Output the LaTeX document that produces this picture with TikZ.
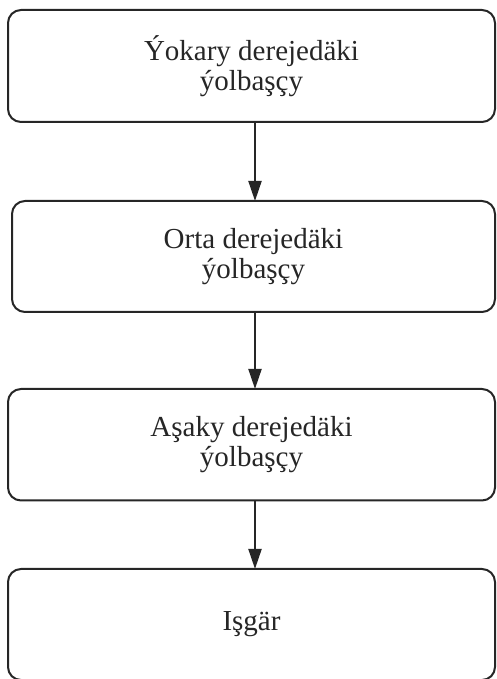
\documentclass[tikz,border=0pt]{standalone}
\usepackage{fontspec}
\setmainfont{Liberation Serif}
\usetikzlibrary{arrows.meta}
\begin{document}
\begin{tikzpicture}[x=1pt,y=1pt,
  box/.style={draw=black!85, line width=2pt, rounded corners=13pt, align=center,
    font=\fontsize{29}{30.5}\selectfont, text=black!85, inner sep=0pt},
  arr/.style={draw=black!85, line width=2pt, -{Triangle[length=20pt,width=13pt]}, shorten >=-1pt}]
\useasboundingbox (0,0) rectangle (496,679);
\node[box, minimum width=487pt, minimum height=112pt] (b1) at (251.5,613) {Ýokary derejedäki\\ýolbaşçy};
\node[box, minimum width=483pt, minimum height=111pt] (b2) at (253.5,422.5) {Orta derejedäki\\ýolbaşçy};
\node[box, minimum width=487pt, minimum height=111.5pt] (b3) at (251.5,234.25) {Aşaky derejedäki\\ýolbaşçy};
\node[box, minimum width=487pt, minimum height=111pt] (b4) at (251.5,54.5) {Işgär};
\coordinate (ax) at (255,0);
\draw[arr] (b1.south -| ax) -- (b2.north -| ax);
\draw[arr] (b2.south -| ax) -- (b3.north -| ax);
\draw[arr] (b3.south -| ax) -- (b4.north -| ax);
\end{tikzpicture}
\end{document}
